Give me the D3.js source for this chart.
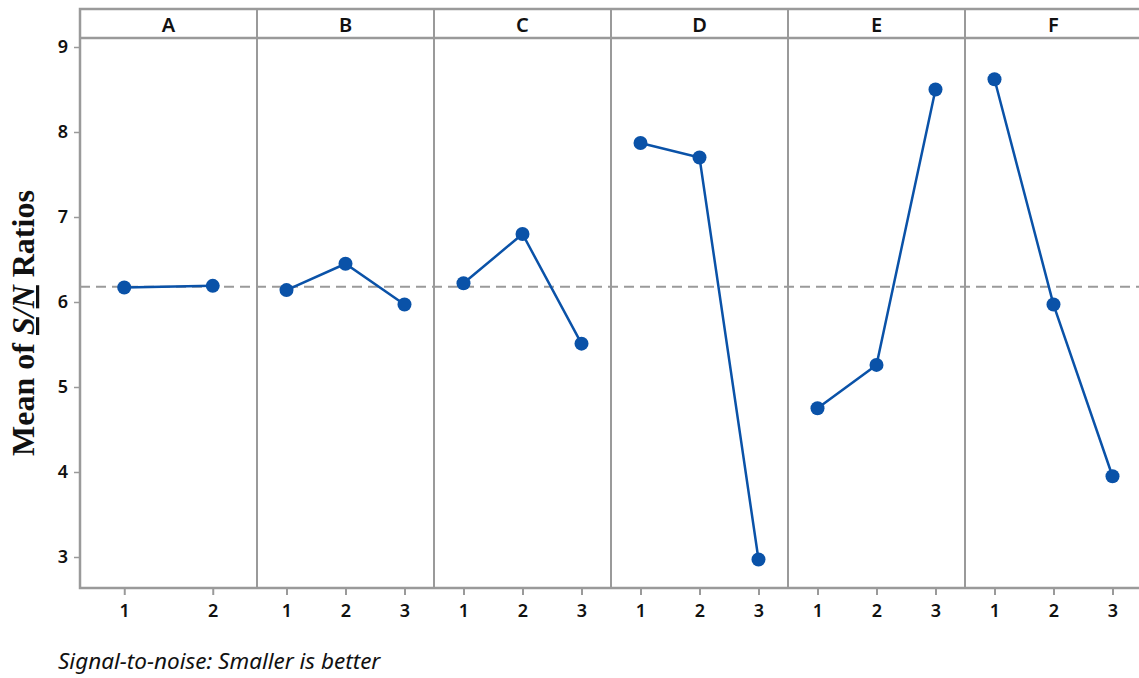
<!DOCTYPE html>
<html><head><meta charset="utf-8">
<script src="https://cdn.jsdelivr.net/npm/d3@7"></script>
<style>body{margin:0;background:#fff}svg{display:block}</style>
</head><body>
<svg id="chart" width="1139" height="678"></svg>
<script>
const factors = ["A","B","C","D","E","F"];
const levelsA = ["1","2"];
const levels3 = ["1","2","3"];
const valuesA = [6.17, 6.19];
const valuesB = [6.14, 6.45, 5.97];
const valuesC = [6.22, 6.80, 5.51];
const valuesD = [7.87, 7.70, 2.97];
const valuesE = [4.75, 5.26, 8.50];
const valuesF = [8.62, 5.97, 3.95];
const meanSN = 6.18;
const yTicks = [3,4,5,6,7,8,9];

const series = [valuesA, valuesB, valuesC, valuesD, valuesE, valuesF];
const levelSets = [levelsA, levels3, levels3, levels3, levels3, levels3];

const svg = d3.select("#chart");
const mLeft = 80, mRight = 1142, mTop = 9, headerBottom = 38, mBottom = 588;
const gray = "#9a9a9a", blue = "#0a52a8";
const font = "'Noto Sans', 'Open Sans', sans-serif";

const y = d3.scaleLinear().domain([9 + 9/85, 3 - 31/85]).range([headerBottom, mBottom]);
const panel = d3.scaleBand().domain(factors).range([mLeft, mRight]);

svg.append("line").attr("x1", mLeft).attr("x2", 1139)
  .attr("y1", y(meanSN)).attr("y2", y(meanSN))
  .attr("stroke", gray).attr("stroke-width", 2).attr("stroke-dasharray", "10,6");

factors.forEach((f, i) => {
  const x0 = panel(f), w = panel.bandwidth();
  const x = d3.scalePoint().domain(levelSets[i]).range([x0, x0 + w]).padding(0.5);
  svg.append("text").attr("x", x0 + w/2).attr("y", 32).attr("text-anchor","middle")
    .attr("font-family", font).attr("font-size", 20).attr("font-weight", 600).attr("fill","#111").text(f);
  const ax = svg.append("g").attr("transform", `translate(0,${mBottom})`)
    .call(d3.axisBottom(x).tickSize(7).tickPadding(9));
  ax.select(".domain").remove();
  ax.selectAll(".tick line").attr("stroke", gray).attr("stroke-width", 2);
  ax.selectAll(".tick text").attr("font-family", font).attr("font-size", 18).attr("font-weight", 600).attr("fill", "#111");
  const vals = series[i];
  const pts = levelSets[i].map((l, j) => [x(l), y(vals[j])]);
  svg.append("path").attr("d", d3.line()(pts)).attr("fill","none")
    .attr("stroke", blue).attr("stroke-width", 2.5);
  svg.selectAll(null).data(pts).enter().append("circle")
    .attr("cx", d => d[0]).attr("cy", d => d[1]).attr("r", 7).attr("fill", blue);
  if (i > 0) svg.append("line").attr("x1", x0).attr("x2", x0).attr("y1", mTop).attr("y2", mBottom)
    .attr("stroke", gray).attr("stroke-width", 2);
});

svg.append("path").attr("d", `M1139,${mTop}H${mLeft}V${mBottom}H1139`).attr("fill","none")
  .attr("stroke", gray).attr("stroke-width", 2.5);
svg.append("line").attr("x1", mLeft).attr("x2", 1139).attr("y1", headerBottom).attr("y2", headerBottom)
  .attr("stroke", gray).attr("stroke-width", 2.5);

const ay = svg.append("g").attr("transform", `translate(${mLeft},0)`)
  .call(d3.axisLeft(y).tickValues(yTicks).tickSize(6).tickPadding(6).tickFormat(d3.format("d")));
ay.select(".domain").remove();
ay.selectAll(".tick line").attr("stroke", gray).attr("stroke-width", 1.5);
ay.selectAll(".tick text").attr("font-family", font).attr("font-size", 18).attr("font-weight", 600).attr("fill", "#111");

const yl = svg.append("text").attr("transform", `translate(34,${(headerBottom+mBottom)/2 + 10}) rotate(-90)`)
  .attr("text-anchor","middle").attr("font-family","'Liberation Serif', 'Times New Roman', serif")
  .attr("font-size", 32).attr("font-weight","bold").attr("fill","#111");
yl.append("tspan").text("Mean of ");
yl.append("tspan").attr("font-style","italic").attr("text-decoration","underline").text("S");
yl.append("tspan").attr("font-style","italic").text("/");
yl.append("tspan").attr("font-style","italic").attr("text-decoration","underline").text("N");
yl.append("tspan").text(" Ratios");

svg.append("text").attr("x", 58).attr("y", 669).attr("font-family", font)
  .attr("font-style","italic").attr("font-size", 22.5).attr("fill","#111")
  .text("Signal-to-noise: Smaller is better");
</script>
</body></html>
